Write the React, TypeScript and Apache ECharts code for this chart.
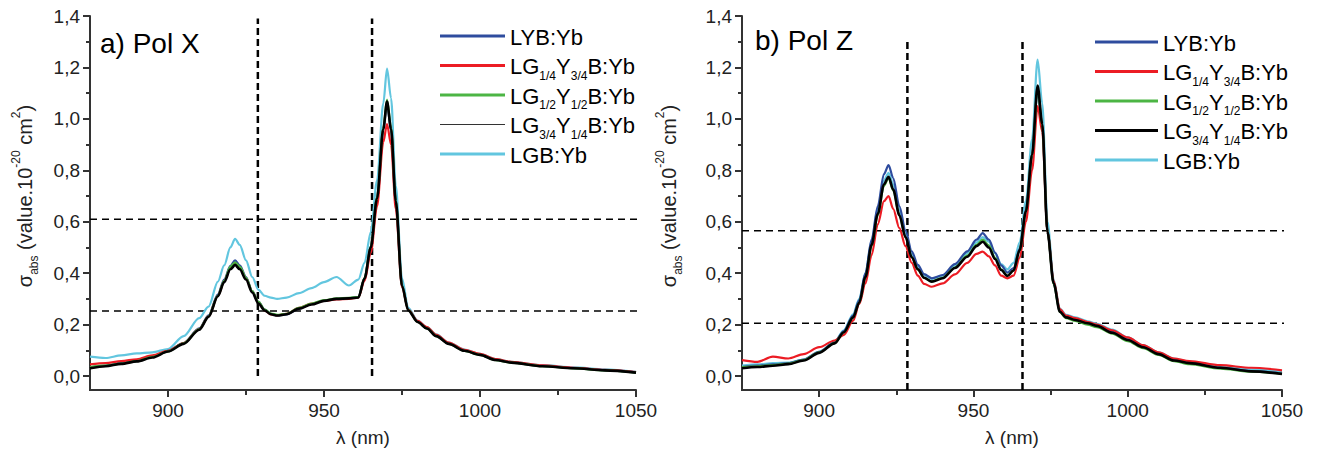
import React, { useEffect, useRef } from 'react';
import * as echarts from 'echarts';

const FONT = '"Liberation Sans", Arial, Helvetica, sans-serif';

// ---------- data ----------
const seriesNames = ['LYB:Yb', 'LG1/4Y3/4B:Yb', 'LG1/2Y1/2B:Yb', 'LG3/4Y1/4B:Yb', 'LGB:Yb'];
const legendLabels = [
  '{t|LYB:Yb}',
  '{t|LG}{s|1/4}{t|Y}{s|3/4}{t|B:Yb}',
  '{t|LG}{s|1/2}{t|Y}{s|1/2}{t|B:Yb}',
  '{t|LG}{s|3/4}{t|Y}{s|1/4}{t|B:Yb}',
  '{t|LGB:Yb}',
];
const seriesColors = ['#2e4c9e', '#ec1c24', '#4cb544', '#000000', '#62c6df'];
const panelTitles = ['a) Pol X', 'b) Pol Z'];
const xTickLabels = [900, 950, 1000, 1050];
const xMinorTicks = [925, 975, 1025];
const xAxisName = 'λ (nm)';
const yAxisName = '{t|σ}{s|abs}{t| (value.10}{p|-20}{t| cm}{p|2}{t|)}';

// Pol X (panel a)
const lambdaX = [875, 880, 885, 890, 895, 900, 905, 910, 913, 916, 918, 920, 921.5, 923, 925, 927, 929, 931, 933, 935, 938, 942, 946, 950, 954, 958, 961, 963, 965, 967, 969, 970.2, 971.5, 973, 975, 977, 980, 983, 986, 990, 995, 1000, 1005, 1010, 1020, 1030, 1040, 1050];
const lybX = [0.033, 0.040, 0.050, 0.060, 0.075, 0.098, 0.128, 0.185, 0.236, 0.318, 0.375, 0.428, 0.450, 0.430, 0.385, 0.330, 0.288, 0.258, 0.242, 0.236, 0.240, 0.262, 0.280, 0.293, 0.300, 0.303, 0.307, 0.380, 0.505, 0.695, 0.960, 1.060, 0.955, 0.680, 0.352, 0.258, 0.212, 0.186, 0.156, 0.126, 0.099, 0.083, 0.063, 0.053, 0.039, 0.031, 0.023, 0.014];
const lg14X = [0.045, 0.050, 0.058, 0.065, 0.080, 0.098, 0.128, 0.182, 0.232, 0.312, 0.368, 0.420, 0.440, 0.422, 0.380, 0.328, 0.285, 0.255, 0.240, 0.236, 0.242, 0.265, 0.282, 0.292, 0.298, 0.300, 0.305, 0.370, 0.480, 0.660, 0.910, 0.980, 0.900, 0.650, 0.345, 0.258, 0.214, 0.190, 0.160, 0.130, 0.102, 0.086, 0.066, 0.055, 0.041, 0.032, 0.024, 0.015];
const lg12X = [0.035, 0.040, 0.048, 0.058, 0.074, 0.096, 0.127, 0.182, 0.232, 0.313, 0.370, 0.425, 0.442, 0.425, 0.382, 0.330, 0.288, 0.258, 0.243, 0.238, 0.242, 0.265, 0.282, 0.295, 0.302, 0.304, 0.307, 0.382, 0.505, 0.695, 0.965, 1.075, 0.965, 0.685, 0.352, 0.256, 0.210, 0.185, 0.155, 0.125, 0.098, 0.082, 0.062, 0.052, 0.038, 0.030, 0.022, 0.013];
const lg34X = [0.030, 0.038, 0.047, 0.057, 0.072, 0.095, 0.125, 0.180, 0.230, 0.310, 0.365, 0.415, 0.432, 0.415, 0.375, 0.325, 0.282, 0.255, 0.240, 0.235, 0.240, 0.262, 0.278, 0.292, 0.300, 0.302, 0.305, 0.380, 0.500, 0.690, 0.960, 1.067, 0.960, 0.680, 0.350, 0.255, 0.210, 0.185, 0.155, 0.125, 0.098, 0.082, 0.062, 0.052, 0.038, 0.030, 0.022, 0.013];
const lgbX = [0.075, 0.070, 0.080, 0.088, 0.092, 0.105, 0.155, 0.225, 0.270, 0.367, 0.430, 0.500, 0.533, 0.510, 0.450, 0.385, 0.335, 0.312, 0.305, 0.300, 0.305, 0.322, 0.342, 0.365, 0.385, 0.352, 0.375, 0.440, 0.560, 0.760, 1.060, 1.195, 1.080, 0.740, 0.380, 0.265, 0.215, 0.190, 0.162, 0.130, 0.103, 0.086, 0.066, 0.055, 0.042, 0.034, 0.026, 0.016];

// Pol Z (panel b)
const lambdaZ = [875, 880, 885, 890, 895, 900, 905, 908, 911, 913, 915, 917, 919, 921, 922.5, 924, 926, 928, 930, 932, 934, 936.5, 940, 944, 948, 951, 953, 955, 957, 959, 961, 963, 965, 967, 969, 970.8, 972.3, 974, 976, 978, 980, 983, 987, 990, 995, 1000, 1005, 1010, 1015, 1020, 1030, 1040, 1050];
const lybZ = [0.035, 0.040, 0.045, 0.050, 0.064, 0.094, 0.131, 0.175, 0.235, 0.295, 0.400, 0.530, 0.660, 0.785, 0.820, 0.770, 0.660, 0.565, 0.485, 0.432, 0.396, 0.380, 0.392, 0.435, 0.485, 0.530, 0.556, 0.530, 0.480, 0.430, 0.402, 0.420, 0.495, 0.645, 0.860, 1.110, 0.975, 0.560, 0.362, 0.252, 0.230, 0.220, 0.207, 0.197, 0.172, 0.142, 0.114, 0.087, 0.062, 0.050, 0.032, 0.019, 0.010];
const lg14Z = [0.062, 0.055, 0.075, 0.068, 0.085, 0.112, 0.138, 0.160, 0.215, 0.280, 0.360, 0.470, 0.590, 0.680, 0.700, 0.650, 0.575, 0.505, 0.440, 0.390, 0.358, 0.347, 0.360, 0.395, 0.440, 0.475, 0.484, 0.465, 0.430, 0.390, 0.380, 0.390, 0.460, 0.600, 0.800, 1.050, 0.950, 0.560, 0.370, 0.260, 0.235, 0.225, 0.210, 0.200, 0.178, 0.150, 0.120, 0.092, 0.068, 0.058, 0.042, 0.032, 0.022];
const lg12Z = [0.035, 0.038, 0.042, 0.048, 0.062, 0.092, 0.128, 0.170, 0.228, 0.285, 0.385, 0.505, 0.625, 0.740, 0.770, 0.722, 0.625, 0.540, 0.462, 0.414, 0.382, 0.368, 0.382, 0.422, 0.468, 0.510, 0.530, 0.508, 0.460, 0.415, 0.390, 0.410, 0.490, 0.640, 0.860, 1.120, 0.975, 0.560, 0.358, 0.248, 0.225, 0.214, 0.200, 0.190, 0.165, 0.136, 0.108, 0.082, 0.058, 0.046, 0.029, 0.017, 0.008];
const lg34Z = [0.030, 0.035, 0.040, 0.046, 0.060, 0.090, 0.127, 0.170, 0.228, 0.285, 0.385, 0.510, 0.630, 0.745, 0.775, 0.725, 0.625, 0.540, 0.462, 0.415, 0.382, 0.367, 0.380, 0.420, 0.464, 0.505, 0.522, 0.500, 0.455, 0.412, 0.389, 0.410, 0.490, 0.640, 0.860, 1.130, 0.980, 0.560, 0.360, 0.250, 0.228, 0.218, 0.205, 0.195, 0.168, 0.140, 0.112, 0.085, 0.060, 0.050, 0.032, 0.018, 0.008];
const lgbZ = [0.040, 0.045, 0.050, 0.052, 0.064, 0.094, 0.132, 0.178, 0.240, 0.300, 0.400, 0.525, 0.650, 0.760, 0.790, 0.745, 0.645, 0.555, 0.475, 0.425, 0.392, 0.378, 0.390, 0.430, 0.478, 0.520, 0.540, 0.522, 0.478, 0.435, 0.415, 0.440, 0.520, 0.680, 0.920, 1.230, 1.060, 0.600, 0.375, 0.262, 0.238, 0.228, 0.213, 0.203, 0.180, 0.150, 0.120, 0.092, 0.068, 0.056, 0.038, 0.026, 0.018];

// dashed guide lines (nm / value units)
const guideX = { v: [928.8, 965.4], h: [0.61, 0.253] };
const guideZ = { v: [928.6, 965.9], h: [0.565, 0.205] };

const panelData = [
  { lambda: lambdaX, values: [lybX, lg14X, lg12X, lg34X, lgbX], guides: guideX },
  { lambda: lambdaZ, values: [lybZ, lg14Z, lg12Z, lg34Z, lgbZ], guides: guideZ },
];

// ---------- layout ----------
const panels = [
  { left: 90, width: 546, nameGap: 50, title: { x: 100, y: 29 }, leg: { x1: 440, x2: 505, tx: 510, y0: 36, gap: 29.5 }, vTop: 1.39, vBot: 0, hEnd: 1053, blackLegendWidth: 1 },
  { left: 742, width: 540, nameGap: 58, title: { x: 755, y: 26 }, leg: { x1: 1095, x2: 1158, tx: 1163, y0: 42, gap: 29.5 }, vTop: 1.31, vBot: -0.054, hEnd: 1054.5, blackLegendWidth: 3 },
];
const GRID_TOP = 16;
const GRID_H = 360;
const X_OFFSET = 14;
const AXIS_COLOR = '#333';
const drawOrder = [4, 0, 1, 2, 3];

const legendRich = {
  t: { fontSize: 22, lineHeight: 30, verticalAlign: 'middle', fontFamily: FONT, color: '#000' },
  s: { fontSize: 12, lineHeight: 12, verticalAlign: 'bottom', fontFamily: FONT, color: '#000' },
};
const nameRich = {
  t: { fontSize: 20, lineHeight: 30, verticalAlign: 'middle', fontFamily: FONT, color: '#222' },
  s: { fontSize: 12, lineHeight: 12, verticalAlign: 'bottom', fontFamily: FONT, color: '#222' },
  p: { fontSize: 12, lineHeight: 12, verticalAlign: 'top', fontFamily: FONT, color: '#222' },
};

function buildOption() {
  const grid: any[] = [];
  const xAxis: any[] = [];
  const yAxis: any[] = [];
  const series: any[] = [];
  const graphic: any[] = [];

  panels.forEach((p, i) => {
    grid.push({ left: p.left, top: GRID_TOP, width: p.width, height: GRID_H, containLabel: false });
    xAxis.push({
      type: 'value', gridIndex: i, min: 875, max: 1050, interval: 25, position: 'bottom', offset: X_OFFSET,
      axisLine: { show: true, onZero: false, lineStyle: { color: AXIS_COLOR, width: 2 } },
      axisTick: { show: true, length: 7, customValues: xTickLabels, lineStyle: { color: AXIS_COLOR, width: 2 } },
      axisLabel: { customValues: xTickLabels, formatter: (v: number) => String(v), fontSize: 19, color: '#222', margin: 11, fontFamily: FONT },
      splitLine: { show: false },
      name: xAxisName, nameLocation: 'middle', nameGap: 38,
      nameTextStyle: { fontSize: 19, color: '#222', fontFamily: FONT },
    });
    xAxis.push({
      type: 'value', gridIndex: i, min: 875, max: 1050, interval: 25, position: 'bottom', offset: X_OFFSET,
      axisLine: { show: false, onZero: false },
      axisTick: { show: true, length: 5, customValues: xMinorTicks, lineStyle: { color: AXIS_COLOR, width: 2 } },
      axisLabel: { show: false },
      splitLine: { show: false },
    });
    yAxis.push({
      type: 'value', gridIndex: i, min: 0, max: 1.4, interval: 0.2,
      axisLine: { show: true, onZero: false, lineStyle: { color: AXIS_COLOR, width: 2 } },
      axisTick: { show: true, length: 7, lineStyle: { color: AXIS_COLOR, width: 2 } },
      minorTick: { show: true, splitNumber: 2, length: 4, lineStyle: { color: AXIS_COLOR, width: 2 } },
      axisLabel: { formatter: (v: number) => v.toFixed(1).replace('.', ','), fontSize: 19, color: '#222', margin: 10, fontFamily: FONT },
      splitLine: { show: false },
      minorSplitLine: { show: false },
      name: yAxisName, nameLocation: 'middle', nameRotate: 90, nameGap: p.nameGap,
      nameTextStyle: { rich: nameRich, fontFamily: FONT },
    });

    const pd = panelData[i];
    const g = pd.guides;

    // dashed guide lines as unclipped line series
    g.v.forEach((xv) => {
      series.push({
        type: 'line', xAxisIndex: i * 2, yAxisIndex: i, clip: false, silent: true,
        data: [[xv, p.vBot], [xv, p.vTop]], showSymbol: false, symbol: 'none',
        lineStyle: { color: '#000', type: [7, 4], width: 2.5 }, z: 2,
      });
    });
    g.h.forEach((yv) => {
      series.push({
        type: 'line', xAxisIndex: i * 2, yAxisIndex: i, clip: false, silent: true,
        data: [[875, yv], [p.hEnd, yv]], showSymbol: false, symbol: 'none',
        lineStyle: { color: '#000', type: [7, 5], width: 1.5 }, z: 2,
      });
    });

    drawOrder.forEach((si, k) => {
      series.push({
        type: 'line', name: seriesNames[si], xAxisIndex: i * 2, yAxisIndex: i,
        data: pd.lambda.map((x, j) => [x, pd.values[si][j]]),
        showSymbol: false, symbol: 'none', smooth: 0.3, smoothMonotone: 'x',
        lineStyle: { color: seriesColors[si], width: si === 3 ? 2.6 : 2.2 },
        itemStyle: { color: seriesColors[si] },
        z: 3 + k, silent: true,
      });
    });

    // panel title
    graphic.push({
      type: 'text', x: p.title.x, y: p.title.y,
      style: { text: panelTitles[i], fontSize: 28, fontFamily: FONT, fill: '#000', verticalAlign: 'top' },
    });
    // legend
    seriesNames.forEach((_, si) => {
      const y = p.leg.y0 + si * p.leg.gap;
      graphic.push({
        type: 'line', shape: { x1: p.leg.x1, y1: y, x2: p.leg.x2, y2: y },
        style: { stroke: si === 3 ? (i === 0 ? '#333' : '#000') : seriesColors[si], lineWidth: si === 3 ? p.blackLegendWidth : 3 },
      });
      graphic.push({
        type: 'text', x: p.leg.tx, y: y + 1,
        style: { text: legendLabels[si], rich: legendRich, fontFamily: FONT, fill: '#000', verticalAlign: 'middle', align: 'left' },
      });
    });
    // extend the y axis down to the offset x axis
    graphic.push({
      type: 'line', shape: { x1: p.left, y1: GRID_TOP + GRID_H, x2: p.left, y2: GRID_TOP + GRID_H + X_OFFSET + 1 },
      style: { stroke: AXIS_COLOR, lineWidth: 2 },
    });
  });

  return {
    animation: false,
    backgroundColor: '#ffffff',
    textStyle: { fontFamily: FONT },
    grid, xAxis, yAxis, series, graphic,
  };
}

export default function App() {
  const ref = useRef<HTMLDivElement>(null);
  useEffect(() => {
    if (!ref.current) return;
    const chart = echarts.init(ref.current, undefined, { renderer: 'svg' });
    chart.setOption(buildOption() as any);
    return () => chart.dispose();
  }, []);
  return <div ref={ref} style={{ position: 'absolute', left: 0, top: 0, width: 1327, height: 460, background: '#fff' }} />;
}
